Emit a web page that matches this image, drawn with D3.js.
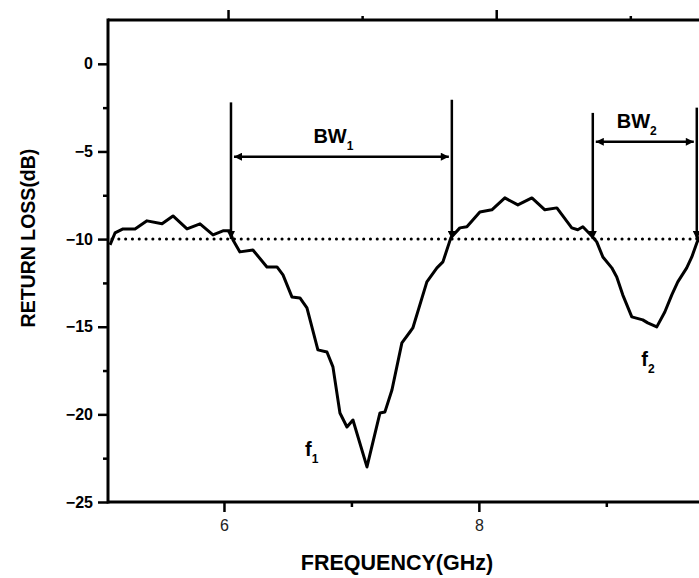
<!DOCTYPE html>
<html>
<head>
<meta charset="utf-8">
<script src="https://cdn.jsdelivr.net/npm/d3@7"></script>
<style>
body { margin: 0; background: #fff; }
svg { display: block; font-family: "Liberation Sans", Arial, sans-serif; }
</style>
</head>
<body>
<svg width="699" height="578"></svg>
<script>
var svg = d3.select('svg');

// measured return loss curve (GHz, dB)
var freq = [5.106, 5.145, 5.208, 5.302, 5.396, 5.514, 5.600, 5.710, 5.812, 5.914, 5.992, 6.047,
    6.071, 6.125, 6.227, 6.337, 6.416, 6.463, 6.533, 6.596, 6.651, 6.737, 6.808, 6.855,
    6.910, 6.965, 7.012, 7.122, 7.224, 7.263, 7.318, 7.396, 7.459, 7.482, 7.592, 7.671,
    7.718, 7.780, 7.851, 7.906, 8.008, 8.102, 8.204, 8.306, 8.416, 8.518, 8.612, 8.729,
    8.776, 8.816, 8.886, 8.925, 8.973, 9.043, 9.082, 9.129, 9.200, 9.286, 9.325, 9.396,
    9.459, 9.514, 9.561, 9.631, 9.671, 9.710, 9.750];
var returnLoss = [-10.33, -9.65, -9.42, -9.42, -8.96, -9.13, -8.68, -9.42, -9.13, -9.76, -9.53, -9.53,
    -10.05, -10.73, -10.62, -11.59, -11.59, -12.04, -13.30, -13.36, -13.93, -16.32, -16.44, -17.29,
    -19.92, -20.72, -20.32, -23.00, -19.92, -19.86, -18.61, -15.92, -15.30, -15.07, -12.44, -11.64,
    -11.30, -9.93, -9.36, -9.30, -8.45, -8.33, -7.65, -8.05, -7.65, -8.33, -8.22, -9.36,
    -9.47, -9.30, -9.82, -10.16, -11.02, -11.64, -12.16, -13.18, -14.44, -14.61, -14.78, -15.01,
    -14.16, -13.18, -12.44, -11.64, -11.02, -10.22, -9.60];

var yMajor = [-25, -20, -15, -10, -5, 0];
var yMinor = [-22.5, -17.5, -12.5, -7.5, -2.5];
var xMajor = [6, 8];
var xMinor = [7, 9];
var threshold = -10;

// bandwidth markers
var markerFreq = [6.055, 7.788, 8.894, 9.71];
var markerTop = [-2.2, -2.05, -2.8, -2.5];
var bwStart = [6.055, 8.894];
var bwEnd = [7.788, 9.71];
var bwLevel = [-5.3, -4.45];
var bwSub = ['1', '2'];
var peakFreq = [6.636, 9.274];
var peakLevel = [-22.4, -17.25];
var peakSub = ['1', '2'];

var x = d3.scaleLinear().domain([5.09, 9.9]).range([108, 721]);
var xTop = d3.scaleLinear().domain([5.09, 9.9]).range([106, 751]);
var y = d3.scaleLinear().domain([-25, 2.5]).range([502, 20]);

var defs = svg.append('defs');
defs.append('marker')
    .attr('id', 'arr')
    .attr('viewBox', '0 0 10 10')
    .attr('refX', 10).attr('refY', 5)
    .attr('markerUnits', 'userSpaceOnUse')
    .attr('markerWidth', 11).attr('markerHeight', 8)
    .attr('orient', 'auto-start-reverse')
    .append('path').attr('d', 'M0,0L10,5L0,10z').attr('fill', '#000');

// axes
function styleAxis(g) {
    g.select('.domain').remove();
    g.selectAll('.tick line').attr('stroke', '#000').attr('stroke-width', 2.5);
}

svg.append('g').attr('transform', 'translate(' + x(5.09) + ',0)')
    .call(d3.axisLeft(y).tickValues(yMajor).tickSize(10).tickPadding(5).tickFormat(d3.format('d')))
    .call(styleAxis)
    .selectAll('text').attr('font-size', 16).attr('font-weight', 'bold').attr('fill', '#000');
svg.append('g').attr('transform', 'translate(' + x(5.09) + ',0)')
    .call(d3.axisLeft(y).tickValues(yMinor).tickSize(5).tickFormat(''))
    .call(styleAxis);

svg.append('g').attr('transform', 'translate(0,' + y(-25) + ')')
    .call(d3.axisBottom(x).tickValues(xMajor).tickSize(10).tickPadding(8).tickFormat(d3.format('d')))
    .call(styleAxis)
    .selectAll('text').attr('font-size', 16).attr('fill', '#222');
svg.append('g').attr('transform', 'translate(0,' + y(-25) + ')')
    .call(d3.axisBottom(x).tickValues(xMinor).tickSize(5).tickFormat(''))
    .call(styleAxis);

svg.append('g').attr('transform', 'translate(0,' + y(2.5) + ')')
    .call(d3.axisTop(xTop).tickValues(xMajor).tickSize(10).tickFormat(''))
    .call(styleAxis);
svg.append('g').attr('transform', 'translate(0,' + y(2.5) + ')')
    .call(d3.axisTop(xTop).tickValues(xMinor).tickSize(4).tickFormat(''))
    .call(styleAxis);

// frame
svg.append('line')
    .attr('x1', x(5.09)).attr('x2', x(5.09))
    .attr('y1', y(2.5) - 1.5).attr('y2', y(-25) + 1.5)
    .attr('stroke', '#000').attr('stroke-width', 3);
svg.append('line')
    .attr('x1', x(5.09)).attr('x2', x(9.9))
    .attr('y1', y(-25)).attr('y2', y(-25))
    .attr('stroke', '#000').attr('stroke-width', 3);
svg.append('line')
    .attr('x1', x(5.09)).attr('x2', x(9.9))
    .attr('y1', y(2.5)).attr('y2', y(2.5))
    .attr('stroke', '#000').attr('stroke-width', 3);

// -10 dB reference
svg.append('line')
    .attr('x1', x(5.09) + 4).attr('x2', x(9.9))
    .attr('y1', y(threshold)).attr('y2', y(threshold))
    .attr('stroke', '#000').attr('stroke-width', 3)
    .attr('stroke-linecap', 'round')
    .attr('stroke-dasharray', '0.1,6.7');

// curve
var pts = freq.map(function(f, i){ return [f, returnLoss[i]]; });
var line = d3.line()
    .x(function(d){ return x(d[0]); })
    .y(function(d){ return y(d[1]); });
svg.append('path')
    .datum(pts)
    .attr('d', line)
    .attr('fill', 'none')
    .attr('stroke', '#000')
    .attr('stroke-width', 3)
    .attr('stroke-linejoin', 'round');

// vertical markers
svg.selectAll('.vmark')
    .data(markerFreq).enter()
    .append('line')
    .attr('x1', function(d){ return x(d); })
    .attr('x2', function(d){ return x(d); })
    .attr('y1', function(d, i){ return y(markerTop[i]); })
    .attr('y2', y(threshold))
    .attr('stroke', '#000')
    .attr('stroke-width', 2.5)
    .attr('marker-end', 'url(#arr)');

// bandwidth arrows
svg.selectAll('.bw')
    .data(bwStart).enter()
    .append('line')
    .attr('x1', function(d){ return x(d) + 3; })
    .attr('x2', function(d, i){ return x(bwEnd[i]) - 3; })
    .attr('y1', function(d, i){ return y(bwLevel[i]); })
    .attr('y2', function(d, i){ return y(bwLevel[i]); })
    .attr('stroke', '#000')
    .attr('stroke-width', 2.5)
    .attr('marker-start', 'url(#arr)')
    .attr('marker-end', 'url(#arr)');

var bwText = svg.selectAll('.bwt')
    .data(bwStart).enter()
    .append('text')
    .attr('x', function(d, i){ return (x(d) + x(bwEnd[i])) / 2 - 8; })
    .attr('y', function(d, i){ return y(bwLevel[i]) - 14; })
    .attr('text-anchor', 'middle')
    .attr('font-size', 20)
    .attr('font-weight', 'bold');
bwText.append('tspan').text('BW');
bwText.append('tspan').attr('font-size', 12).attr('dy', 7).text(function(d, i){ return bwSub[i]; });

var fText = svg.selectAll('.ft')
    .data(peakFreq).enter()
    .append('text')
    .attr('x', function(d){ return x(d); })
    .attr('y', function(d, i){ return y(peakLevel[i]); })
    .attr('font-size', 20)
    .attr('font-weight', 'bold');
fText.append('tspan').text('f');
fText.append('tspan').attr('font-size', 12).attr('dy', 7).text(function(d, i){ return peakSub[i]; });

// axis titles
svg.append('text')
    .attr('x', 397).attr('y', 570)
    .attr('text-anchor', 'middle')
    .attr('font-size', 21.5)
    .attr('font-weight', 'bold')
    .text('FREQUENCY(GHz)');
svg.append('text')
    .attr('transform', 'translate(35,238) rotate(-90)')
    .attr('text-anchor', 'middle')
    .attr('font-size', 19.5)
    .attr('font-weight', 'bold')
    .text('RETURN LOSS(dB)');
</script>
</body>
</html>
